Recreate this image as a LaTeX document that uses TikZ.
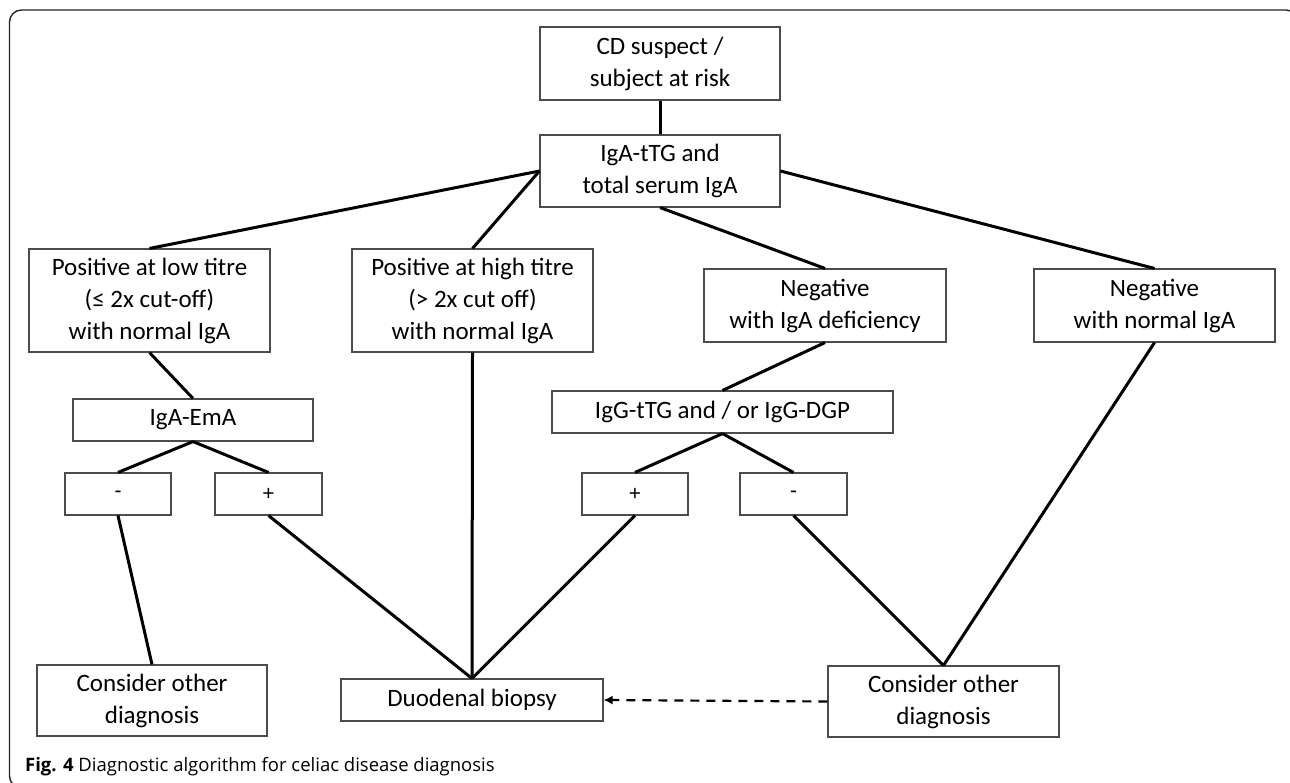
\documentclass[tikz,border=0pt]{standalone}
\usepackage{fontspec}
\setmainfont{Carlito}
\newfontfamily\capfont{Open Sans}
\newfontfamily\signfont{Liberation Sans}
\usetikzlibrary{arrows.meta}
\definecolor{boxgray}{gray}{0.3}
\definecolor{framegray}{gray}{0.15}
\begin{document}
\begin{tikzpicture}[x=1pt,y=-1pt,
  box/.style={draw=boxgray,line width=1.1pt,align=center,inner sep=0pt,
    font=\fontsize{25}{32}\selectfont},
  signbox/.style={box,font=\signfont\fontsize{21}{24}\selectfont},
  conn/.style={line width=3pt,black}]
\useasboundingbox (0,0) rectangle (1290,782);
\clip (0,0) rectangle (1290,782);
\draw[framegray,line width=1.4pt,rounded corners=12pt] (9.5,10) rectangle (1298,788);

\node[box,minimum width=240pt,minimum height=73pt] (b1) at (660,63.5) {CD suspect /\\subject at risk};
\node[box,minimum width=240pt,minimum height=72pt] (b2) at (660,171) {IgA-tTG and\\total serum IgA};
\node[box,minimum width=241pt,minimum height=103pt] (b3) at (149.5,300.5) {Positive at low titre\\(≤ 2x cut-off)\\with normal IgA};
\node[box,minimum width=241pt,minimum height=103pt] (b4) at (472.5,300.5) {Positive at high titre\\(> 2x cut off)\\with normal IgA};
\node[box,minimum width=242pt,minimum height=73pt] (b5) at (825,305.5) {Negative\\with IgA deficiency};
\node[box,minimum width=241pt,minimum height=73pt] (b6) at (1154.5,305.5) {Negative\\with normal IgA};
\node[box,minimum width=240pt,minimum height=42pt] (b7) at (193,420) {IgA-EmA};
\node[box,minimum width=341pt,minimum height=42pt] (b8) at (722.5,412) {IgG-tTG and / or IgG-DGP};
\node[signbox,minimum width=106pt,minimum height=42pt] (m1) at (118,494) {-};
\node[signbox,minimum width=107pt,minimum height=42pt] (p1) at (268.5,494) {+};
\node[signbox,minimum width=106pt,minimum height=42pt] (p2) at (635,494) {+};
\node[signbox,minimum width=107pt,minimum height=42pt] (m2) at (793.5,494) {-};
\node[box,minimum width=230pt,minimum height=71pt] (c1) at (152,700.5) {Consider other\\diagnosis};
\node[box,minimum width=262pt,minimum height=42pt] (d) at (472,700) {Duodenal biopsy};
\node[box,minimum width=231pt,minimum height=71pt] (c2) at (943.5,701.5) {Consider other\\diagnosis};

\draw[conn] (b1.south) -- (b2.north);
\draw[conn] (b2.west) -- (b3.north);
\draw[conn] (b2.west) -- (b4.north);
\draw[conn] (b2.south) -- (b5.north);
\draw[conn] (b2.east) -- (b6.north);
\draw[conn] (b3.south) -- (b7.north);
\draw[conn] (b7.south) -- (m1.north);
\draw[conn] (b7.south) -- (p1.north);
\draw[conn] (b5.south) -- (b8.north);
\draw[conn] (b8.south) -- (p2.north);
\draw[conn] (b8.south) -- (m2.north);
\draw[conn] (m1.south) -- (c1.north);
\draw[conn] (p1.south) -- (d.north);
\draw[conn] (b4.south) -- (d.north);
\draw[conn] (p2.south) -- (d.north);
\draw[conn] (m2.south) -- (c2.north);
\draw[conn] (b6.south) -- (c2.north);
\draw[line width=2.2pt,dash pattern=on 9pt off 7pt,-{Latex[length=9pt,width=9pt]}] (c2.west) -- (d.east);

\node[anchor=base west,inner sep=0pt,font=\capfont\fontsize{18.5}{22}\selectfont] (cap) at (25,771) {\textbf{Fig. 4} Diagnostic algorithm for celiac disease diagnosis};
\end{tikzpicture}
\end{document}
